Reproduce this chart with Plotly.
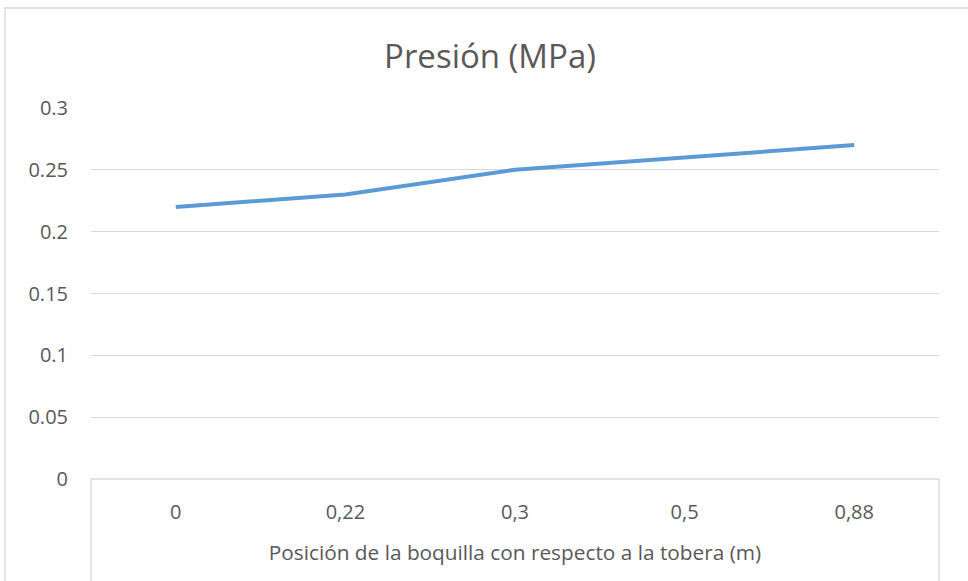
import plotly.graph_objects as go

# Nozzle position relative to the tuyere (m), as category labels
positions = ["0", "0,22", "0,3", "0,5", "0,88"]
# Pressure readings (MPa)
pressure = [0.22, 0.23, 0.25, 0.26, 0.27]
y_ticks = [0, 0.05, 0.1, 0.15, 0.2, 0.25, 0.3]
y_ticktext = ["0", "0.05", "0.1", "0.15", "0.2", "0.25", "0.3"]

W, H = 968, 581
L, R, T, B = 91, 29, 108, 102
pw, ph = W - L - R, H - T - B

def px_x(px):
    return (px - L) / pw

def px_y(py):
    return (H - B - py) / ph

GRID = "#D9D9D9"
TEXT = "#595959"
FONT = "Open Sans, Liberation Sans, sans-serif"

fig = go.Figure()
fig.add_trace(go.Scatter(
    x=positions, y=pressure, mode="lines",
    line=dict(color="#5B9BD5", width=4),
    hoverinfo="x+y", showlegend=False,
))

fig.update_layout(
    width=W, height=H,
    margin=dict(l=L, r=R, t=T, b=B),
    paper_bgcolor="white", plot_bgcolor="white",
    font=dict(family=FONT, color=TEXT),
    title=dict(text="Presión (MPa)", x=490 / W, xref="container", xanchor="center",
               y=1 - 56 / H, yref="container", yanchor="middle",
               font=dict(size=33, color=TEXT, family=FONT)),
    xaxis=dict(type="category", range=[-0.5, 4.5], showgrid=False, zeroline=False,
               showline=False, ticks="", tickfont=dict(size=20, color=TEXT),
               ticklabelstandoff=19,
               title=dict(text="Posición de la boquilla con respecto a la tobera (m)",
                          font=dict(size=20.8, color=TEXT), standoff=21)),
    yaxis=dict(range=[0, 0.3], tickvals=y_ticks, ticktext=y_ticktext,
               showgrid=True, gridcolor=GRID, gridwidth=1, zeroline=False,
               showline=False, ticks="", tickfont=dict(size=20, color=TEXT),
               ticklabelstandoff=22),
    shapes=[
        # outer chart border
        dict(type="rect", xref="paper", yref="paper",
             x0=px_x(5), x1=px_x(W + 10), y0=px_y(H + 10), y1=px_y(8),
             line=dict(color=GRID, width=1.5), layer="below"),
        # category axis frame
        dict(type="line", xref="paper", yref="paper", x0=0, x1=1, y0=0, y1=0,
             line=dict(color=GRID, width=1.5)),
        dict(type="line", xref="paper", yref="paper", x0=0, x1=0, y0=0, y1=px_y(H + 10),
             line=dict(color=GRID, width=1.5)),
        dict(type="line", xref="paper", yref="paper", x0=1, x1=1, y0=0, y1=px_y(H + 10),
             line=dict(color=GRID, width=1.5)),
    ],
)

fig.write_html("out.html")
